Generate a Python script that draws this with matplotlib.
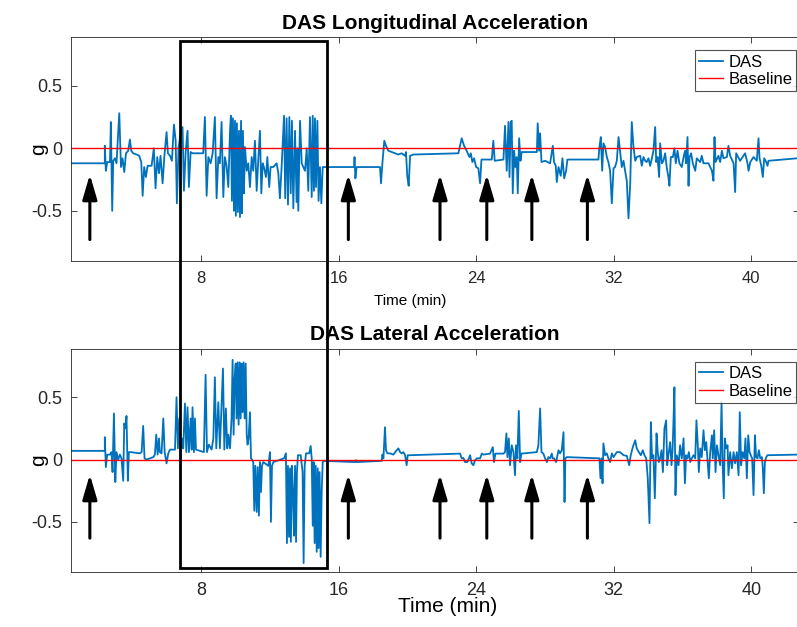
import matplotlib
matplotlib.use("Agg")
import matplotlib.pyplot as plt
from matplotlib.patches import Rectangle
from matplotlib.transforms import blended_transform_factory

# (time in min, acceleration in g)
lon_points = [
    (0.44, -0.12), (2.41, -0.12), (2.41, 0.02), (2.47, -0.18), (2.55, -0.11), (2.71, -0.11),
    (2.76, 0.21), (2.84, -0.50), (2.90, -0.10), (3.00, -0.08), (3.09, -0.12), (3.25, 0.28),
    (3.35, -0.15), (3.44, -0.08), (3.54, -0.19), (3.64, -0.04), (3.77, -0.02), (3.87, 0.07),
    (3.95, -0.02), (4.06, -0.04), (4.26, -0.05), (4.41, -0.06), (4.53, -0.11), (4.61, -0.38),
    (4.70, -0.15), (4.80, -0.23), (4.90, -0.14), (5.13, -0.14), (5.26, 0.0), (5.36, -0.32),
    (5.46, -0.07), (5.56, -0.20), (5.65, -0.06), (5.77, -0.28), (5.87, -0.07), (6.00, 0.13),
    (6.08, -0.04), (6.20, -0.06), (6.31, -0.10), (6.43, 0.19), (6.53, 0.06), (6.60, -0.44),
    (6.70, 0.01), (6.80, 0.10), (6.93, 0.17), (7.01, -0.34), (7.11, -0.03), (7.22, 0.14),
    (7.30, -0.31), (7.40, -0.03), (7.51, -0.04), (8.13, -0.04), (8.23, 0.25), (8.33, -0.38),
    (8.43, -0.07), (8.56, -0.12), (8.68, -0.04), (8.81, 0.25), (8.91, -0.40), (9.01, -0.07),
    (9.10, -0.12), (9.20, 0.21), (9.30, -0.39), (9.39, -0.07), (9.49, -0.14), (9.59, -0.31),
    (9.69, 0.14), (9.74, 0.26), (9.80, -0.42), (9.86, 0.24), (9.92, -0.50), (9.98, 0.22),
    (10.03, -0.54), (10.09, 0.20), (10.15, -0.51), (10.21, 0.14), (10.27, -0.55), (10.33, 0.22),
    (10.38, -0.52), (10.44, 0.14), (10.50, -0.36), (10.56, 0.01), (10.66, -0.18), (10.75, -0.12),
    (10.85, -0.31), (10.95, -0.07), (11.04, -0.18), (11.14, 0.06), (11.24, -0.34), (11.33, -0.10),
    (11.43, 0.14), (11.51, -0.36), (11.59, -0.12), (11.66, -0.15), (11.78, -0.23), (11.86, -0.07),
    (11.97, -0.31), (12.05, -0.15), (12.21, -0.15), (12.40, -0.12), (12.50, -0.20), (12.59, -0.40),
    (12.69, -0.15), (12.83, 0.26), (12.90, -0.40), (12.98, 0.24), (13.06, -0.45), (13.14, 0.25),
    (13.22, -0.36), (13.29, 0.22), (13.37, -0.48), (13.47, 0.14), (13.56, -0.43), (13.61, 0.0),
    (13.66, -0.50), (13.76, 0.22), (13.86, -0.12), (13.95, -0.15), (14.05, -0.18), (14.15, 0.0),
    (14.24, -0.34), (14.34, 0.25), (14.44, -0.39), (14.50, 0.26), (14.57, -0.34), (14.63, 0.24),
    (14.69, -0.31), (14.77, 0.22), (14.84, -0.42), (14.92, -0.15), (15.00, -0.44), (15.08, -0.15),
    (16.90, -0.15), (16.93, -0.07), (16.98, -0.24), (17.05, -0.15), (18.41, -0.15), (18.47, -0.28),
    (18.55, -0.12), (18.66, 0.06), (18.76, 0.02), (18.90, -0.02), (19.09, -0.03), (19.28, -0.04),
    (19.48, -0.05), (19.67, -0.04), (19.87, -0.06), (19.92, -0.03), (20.00, -0.23), (20.08, -0.30),
    (20.16, -0.06), (20.35, -0.05), (22.97, -0.04), (23.16, 0.08), (23.30, 0.02), (23.45, -0.02),
    (23.61, -0.07), (23.69, -0.04), (23.78, -0.11), (23.88, -0.08), (24.00, -0.15), (24.13, -0.16),
    (24.23, -0.28), (24.31, -0.09), (24.91, -0.09), (25.00, 0.06), (25.08, -0.10), (25.59, -0.09),
    (25.68, 0.18), (25.78, -0.18), (25.88, 0.21), (25.94, -0.23), (26.01, 0.21), (26.07, 0.22),
    (26.13, -0.36), (26.21, -0.02), (26.28, -0.15), (26.36, -0.07), (26.42, -0.36), (26.50, 0.08),
    (26.58, -0.10), (26.65, -0.03), (27.53, -0.03), (27.58, 0.20), (27.66, -0.02), (27.72, 0.12),
    (27.80, -0.11), (28.01, -0.10), (28.30, -0.12), (28.46, 0.02), (28.53, -0.11), (28.63, -0.14),
    (28.69, -0.27), (28.79, -0.15), (28.92, -0.22), (29.02, -0.08), (29.12, -0.24), (29.23, -0.18),
    (29.31, -0.09), (31.11, -0.09), (31.17, 0.01), (31.25, 0.09), (31.33, -0.18), (31.40, 0.04),
    (31.50, 0.01), (31.60, -0.07), (31.69, -0.11), (31.79, -0.18), (31.89, -0.44), (31.99, -0.16),
    (32.08, -0.15), (32.18, -0.10), (32.28, 0.09), (32.37, -0.02), (32.47, -0.15), (32.57, -0.10),
    (32.66, -0.18), (32.76, -0.26), (32.86, -0.56), (32.96, -0.28), (33.05, 0.21), (33.15, 0.01),
    (33.25, -0.10), (33.34, -0.07), (33.54, -0.06), (33.63, -0.14), (33.73, -0.07), (33.83, -0.10),
    (33.92, -0.11), (34.02, -0.08), (34.12, -0.14), (34.22, -0.08), (34.31, -0.02), (34.41, 0.17),
    (34.47, -0.11), (34.55, -0.07), (34.64, -0.23), (34.70, 0.04), (34.80, -0.12), (34.89, -0.10),
    (34.99, -0.04), (35.09, -0.16), (35.18, -0.23), (35.24, -0.30), (35.32, -0.07), (35.44, -0.07),
    (35.53, 0.0), (35.61, -0.12), (35.71, -0.02), (35.82, -0.12), (35.96, -0.15), (36.06, -0.07),
    (36.15, -0.02), (36.21, -0.12), (36.29, 0.09), (36.35, -0.30), (36.41, -0.07), (36.50, -0.04),
    (36.60, -0.12), (36.74, -0.18), (36.83, -0.08), (37.03, -0.11), (37.12, -0.06), (37.22, -0.12),
    (37.51, -0.12), (37.71, -0.18), (37.80, -0.26), (37.86, 0.09), (37.92, -0.11), (38.09, -0.06),
    (38.19, -0.11), (38.29, -0.02), (38.38, -0.08), (38.58, -0.07), (38.67, 0.02), (38.77, -0.06),
    (38.97, -0.12), (39.06, -0.35), (39.12, -0.04), (39.35, -0.10), (39.64, -0.04), (39.78, -0.12),
    (39.84, -0.18), (39.94, -0.11), (40.13, -0.07), (40.32, -0.10), (40.42, 0.08), (40.48, -0.08),
    (40.58, -0.14), (40.67, -0.23), (40.75, -0.08), (40.87, -0.11), (40.94, -0.14), (41.00, -0.10),
    (42.67, -0.08),
]

lat_points = [
    (0.44, 0.07), (2.41, 0.07), (2.41, 0.18), (2.47, -0.06), (2.55, 0.04), (2.71, 0.04),
    (2.80, 0.06), (2.86, -0.10), (2.94, 0.37), (3.02, -0.18), (3.09, 0.06), (3.19, 0.0),
    (3.29, 0.04), (3.38, 0.01), (3.48, -0.17), (3.54, 0.29), (3.62, 0.25), (3.67, 0.35),
    (3.75, -0.17), (3.81, 0.06), (3.91, 0.06), (4.45, 0.05), (4.55, 0.06), (4.64, 0.27),
    (4.72, 0.01), (4.84, 0.0), (5.23, 0.02), (5.32, 0.04), (5.40, 0.20), (5.48, 0.04),
    (5.56, 0.17), (5.61, 0.06), (5.71, 0.05), (5.81, 0.33), (5.89, 0.06), (6.00, -0.03),
    (6.10, 0.05), (6.20, 0.08), (6.49, 0.08), (6.58, 0.50), (6.66, 0.09), (6.74, 0.33),
    (6.82, 0.01), (6.89, 0.17), (6.97, 0.09), (7.07, 0.45), (7.15, 0.06), (7.22, 0.42),
    (7.30, 0.06), (7.40, 0.33), (7.46, 0.08), (7.51, 0.42), (7.59, 0.06), (7.65, 0.33),
    (7.71, 0.08), (8.17, 0.06), (8.27, 0.68), (8.35, 0.06), (8.46, 0.12), (8.62, 0.08),
    (8.72, 0.17), (8.81, 0.66), (8.89, 0.09), (9.01, 0.46), (9.10, 0.09), (9.20, 0.45),
    (9.28, 0.73), (9.36, 0.08), (9.45, 0.41), (9.53, 0.09), (9.59, 0.20), (9.69, 0.09),
    (9.78, 0.33), (9.84, 0.80), (9.90, 0.20), (9.96, 0.65), (10.02, 0.77), (10.07, 0.33),
    (10.13, 0.78), (10.19, 0.28), (10.25, 0.78), (10.31, 0.33), (10.36, 0.77), (10.42, 0.38),
    (10.48, 0.78), (10.54, 0.33), (10.60, 0.77), (10.66, 0.20), (10.71, 0.12), (10.77, 0.17),
    (10.85, 0.38), (10.91, 0.01), (10.97, 0.0), (11.04, -0.02), (11.10, -0.41), (11.16, -0.05),
    (11.24, -0.42), (11.30, -0.06), (11.37, -0.45), (11.43, -0.02), (11.49, -0.26), (11.55, -0.05),
    (11.62, -0.02), (11.92, -0.05), (12.01, 0.06), (12.07, -0.50), (12.13, -0.05), (12.21, -0.02),
    (12.83, 0.01), (12.94, 0.05), (13.00, -0.67), (13.06, -0.05), (13.12, -0.62), (13.18, -0.07),
    (13.23, -0.66), (13.29, -0.05), (13.35, -0.26), (13.41, -0.61), (13.47, -0.05), (13.53, -0.66),
    (13.58, -0.10), (13.64, 0.035), (13.80, 0.035), (13.91, -0.10), (13.97, -0.83), (14.03, -0.05),
    (14.11, 0.05), (14.30, 0.05), (14.38, 0.11), (14.44, 0.01), (14.50, -0.53), (14.55, -0.02),
    (14.61, -0.67), (14.67, -0.05), (14.73, -0.74), (14.79, -0.07), (14.84, -0.71), (14.90, -0.10),
    (14.96, -0.78), (15.02, -0.26), (15.08, -0.02), (15.15, -0.01), (16.96, -0.02), (17.02, -0.005),
    (17.05, -0.02), (18.51, -0.01), (18.55, 0.04), (18.61, 0.01), (18.70, 0.26), (18.76, 0.075),
    (18.84, 0.05), (18.99, 0.05), (19.19, 0.04), (19.38, 0.075), (19.48, 0.09), (19.58, 0.06),
    (19.67, 0.05), (19.77, 0.06), (19.87, 0.035), (19.96, -0.045), (20.02, 0.035), (20.12, 0.035),
    (23.07, 0.048), (23.16, 0.01), (23.26, 0.013), (23.36, -0.02), (23.49, -0.02), (23.65, 0.035),
    (23.74, -0.03), (23.84, -0.045), (23.94, -0.005), (24.04, 0.01), (24.23, 0.01), (24.33, 0.048),
    (24.42, 0.04), (24.81, 0.048), (24.97, 0.10), (25.04, -0.02), (25.12, 0.048), (25.59, 0.048),
    (25.68, 0.06), (25.76, 0.21), (25.82, 0.02), (25.90, 0.17), (25.97, -0.045), (26.07, 0.115),
    (26.17, 0.06), (26.26, -0.125), (26.32, 0.115), (26.40, 0.01), (26.48, 0.39), (26.56, -0.02),
    (26.63, 0.048), (27.53, 0.06), (27.62, 0.115), (27.72, 0.41), (27.80, 0.06), (27.91, 0.048),
    (28.01, 0.01), (28.11, -0.02), (28.20, 0.02), (28.30, 0.01), (28.40, 0.048), (28.45, 0.01),
    (28.53, 0.01), (28.65, -0.02), (28.79, 0.075), (28.88, 0.05), (28.98, 0.075), (29.08, 0.22),
    (29.14, -0.34), (29.19, 0.01), (29.27, 0.02), (31.17, 0.01), (31.23, -0.15), (31.29, 0.01),
    (31.35, -0.19), (31.40, 0.13), (31.50, 0.035), (31.60, 0.05), (31.69, 0.01), (31.79, -0.02),
    (31.89, 0.05), (31.99, 0.02), (32.18, 0.06), (32.37, 0.06), (32.57, 0.035), (32.76, 0.03),
    (32.90, -0.045), (32.99, 0.035), (33.11, 0.10), (33.25, 0.155), (33.34, 0.09), (33.46, 0.06),
    (33.58, 0.035), (33.69, 0.075), (33.79, 0.035), (33.89, 0.01), (33.98, -0.15), (34.08, -0.51),
    (34.16, 0.30), (34.23, 0.01), (34.31, 0.035), (34.39, -0.31), (34.49, 0.21), (34.56, 0.06),
    (34.62, -0.02), (34.70, 0.01), (34.78, 0.075), (34.86, -0.10), (34.95, 0.25), (35.05, 0.315),
    (35.11, -0.045), (35.18, 0.035), (35.28, 0.14), (35.36, -0.045), (35.42, 0.075), (35.48, 0.33),
    (35.53, 0.58), (35.59, -0.285), (35.67, 0.035), (35.77, -0.045), (35.86, 0.115), (35.96, 0.01),
    (36.06, 0.17), (36.14, -0.19), (36.21, 0.035), (36.29, 0.01), (36.37, 0.06), (36.45, -0.02),
    (36.54, 0.01), (36.64, 0.035), (36.74, 0.01), (36.81, 0.315), (36.89, 0.115), (36.95, -0.10),
    (37.03, 0.09), (37.12, 0.02), (37.22, 0.235), (37.30, 0.075), (37.38, 0.14), (37.45, 0.01),
    (37.53, -0.15), (37.61, 0.06), (37.71, 0.195), (37.76, 0.01), (37.84, 0.235), (37.92, -0.10),
    (38.00, 0.115), (38.09, 0.035), (38.19, -0.045), (38.27, 0.46), (38.33, -0.02), (38.40, -0.31),
    (38.46, 0.17), (38.54, 0.09), (38.62, 0.115), (38.67, -0.125), (38.77, 0.06), (38.87, -0.07),
    (38.97, 0.06), (39.06, -0.03), (39.16, 0.06), (39.26, -0.125), (39.33, 0.38), (39.41, -0.045),
    (39.49, 0.06), (39.59, 0.01), (39.66, 0.17), (39.74, -0.15), (39.82, 0.195), (39.90, 0.06),
    (39.97, 0.035), (40.05, 0.01), (40.13, -0.285), (40.21, 0.195), (40.28, 0.02), (40.36, 0.01),
    (40.44, 0.075), (40.52, 0.01), (40.62, 0.02), (40.67, -0.07), (40.73, -0.27), (40.79, -0.02),
    (40.87, 0.02), (40.94, 0.035), (42.67, 0.04),
]

lon_time, lon_g = zip(*lon_points)
lat_time, lat_g = zip(*lat_points)

baseline_g = 0.0
arrow_times = [1.54, 16.57, 21.90, 24.62, 27.24, 30.47]
lon_arrow_g = (-0.73, -0.21)   # tail, tip
lat_arrow_g = (-0.63, -0.12)
window_min = (6.78, 15.31)     # boxed segment
x_ticks = [8, 16, 24, 32, 40]
y_ticks = [-0.5, 0, 0.5]
y_ticklabels = ["-0.5", "0", "0.5"]

DAS_BLUE = "#0072BD"
AX_COLOR = "#262626"

plt.rcParams["font.family"] = ["Liberation Sans", "DejaVu Sans"]
plt.rcParams["axes.unicode_minus"] = False

fig = plt.figure(figsize=(7.97, 6.27), dpi=100)
ax_lon = fig.add_axes([0.089, 0.584, 0.913, 0.357])
ax_lat = fig.add_axes([0.089, 0.088, 0.913, 0.356])

# axes, x, y, arrow span, title, xlabel size, xtick size, xlabel position
panels = [
    (ax_lon, lon_time, lon_g, lon_arrow_g, "DAS Longitudinal Acceleration", 11, 12, (0.466, -0.15)),
    (ax_lat, lat_time, lat_g, lat_arrow_g, "DAS Lateral Acceleration", 15, 13, (0.517, -0.115)),
]

for ax, t, g, arrow_g, title, xlab_size, xtick_size, xlab_pos in panels:
    ax.plot(t, g, color=DAS_BLUE, lw=1.3, label="DAS")
    ax.axhline(baseline_g, color="#FF0000", lw=1.0, label="Baseline")
    for at in arrow_times:
        ax.annotate("", xy=(at, arrow_g[1]), xytext=(at, arrow_g[0]),
                    arrowprops=dict(arrowstyle="-|>,head_length=0.75,head_width=0.22",
                                    color="black", lw=2.2, mutation_scale=20,
                                    shrinkA=0, shrinkB=0))
    ax.set_xlim(0.44, 42.75)
    ax.set_ylim(-0.9, 0.89)
    ax.set_xticks(x_ticks)
    ax.set_yticks(y_ticks)
    ax.set_yticklabels(y_ticklabels)
    ax.tick_params(direction="in", top=True, right=True, length=4, width=0.6,
                   colors=AX_COLOR, labelsize=13)
    ax.tick_params(axis="y", pad=6)
    ax.tick_params(axis="x", labelsize=xtick_size, pad=7)
    for sp in ax.spines.values():
        sp.set_color(AX_COLOR)
        sp.set_linewidth(0.6)
    ax.set_title(title, fontsize=15, fontweight="bold", pad=6)
    ax.set_xlabel("Time (min)", fontsize=xlab_size)
    ax.xaxis.set_label_coords(*xlab_pos)
    ax.set_ylabel("g", fontsize=15, rotation=90, va="center")
    ax.yaxis.set_label_coords(-0.044, 0.5)
    leg = ax.legend(loc="upper right", bbox_to_anchor=(0.997, 0.94), fontsize=12,
                    frameon=True, fancybox=False, handlelength=1.45, handletextpad=0.3,
                    borderpad=0.25, labelspacing=0.15, borderaxespad=0.0)
    leg.get_frame().set_edgecolor(AX_COLOR)
    leg.get_frame().set_linewidth(0.8)

# black box spanning both panels around the boxed time window
trans = blended_transform_factory(ax_lon.transData, fig.transFigure)
box = Rectangle((window_min[0], 0.0936), window_min[1] - window_min[0], 0.841,
                transform=trans, fill=False, edgecolor="black", lw=2.0, zorder=5)
fig.add_artist(box)

fig.savefig("out.png", dpi=100)
